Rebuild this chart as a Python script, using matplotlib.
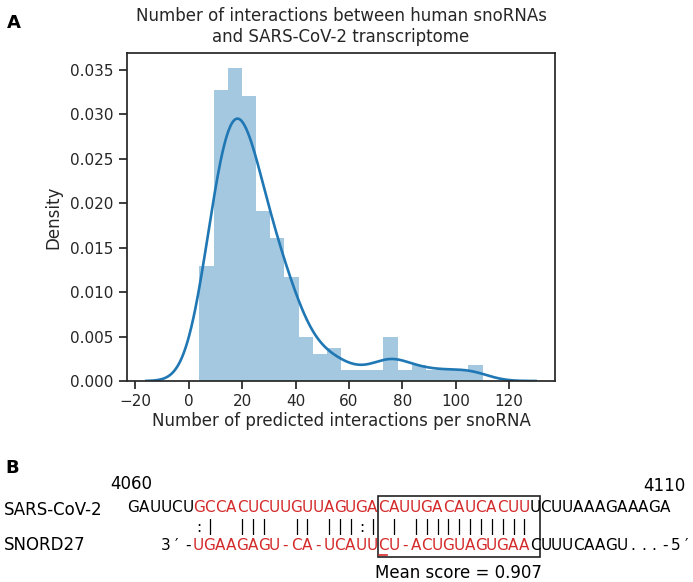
import numpy as np
import matplotlib
matplotlib.use("Agg")
import matplotlib.pyplot as plt
from matplotlib.patches import Rectangle

# ---------------- data ----------------
bin_min, bin_max, n_bins = 4.0, 110.0, 20
counts = [21, 53, 57, 52, 31, 26, 19, 8, 5, 6, 2, 2, 2, 8, 2, 3, 2, 2, 2, 3]
xticks = [-20, 0, 20, 40, 60, 80, 100, 120]
title = "Number of interactions between human snoRNAs\nand SARS-CoV-2 transcriptome"
xlabel = "Number of predicted interactions per snoRNA"
ylabel = "Density"

top_seq = "GAUUCUGCCACUCUUGUUAGUGACAUUGACAUCACUUUCUUAAAGAAAGA"
top_red = (6, 37)            # cells [start, end) drawn red
pair_str = "      :|  |||  || |||:| | |||||||||||"
bot_seq = "   3′-UGAAGAGU-CA-UCAUUCU-ACUGUAGUGAACUUUCAAGU...-5′"
bot_red = (6, 37)
underlined_cell = 23
box_cells = (23, 37)         # inclusive
pos_left, pos_right = "4060", "4110"
name_top, name_bot = "SARS-CoV-2", "SNORD27"
score_text = "Mean score = 0.907"

# ---------------- figure ----------------
W, H = 693, 582
fig = plt.figure(figsize=(W / 100, H / 100), dpi=100)
TXT = "#262626"
BLUE = "#1f77b4"
RED = "#d42a2a"

ax = fig.add_axes([127 / W, 1 - 381 / H, 428 / W, (381 - 52.7) / H])
edges = np.linspace(bin_min, bin_max, n_bins + 1)
centers = (edges[:-1] + edges[1:]) / 2
ax.hist(centers, bins=edges, weights=counts, density=True,
        color=BLUE, alpha=0.4, linewidth=0)

# Gaussian KDE (Scott's rule) of the binned observations
data = np.repeat(centers, counts)
bw = data.std(ddof=1) * len(data) ** (-1 / 5)
grid = np.linspace(bin_min - 3 * bw, bin_max + 3 * bw, 400)
dens = np.exp(-0.5 * ((grid[:, None] - data[None, :]) / bw) ** 2).sum(1)
dens /= len(data) * bw * np.sqrt(2 * np.pi)
ax.plot(grid, dens, color=BLUE, lw=1.9)

ax.set_xticks(xticks)
ax.set_ylim(bottom=0)
ax.tick_params(labelsize=11, length=6, width=1.25, colors=TXT)
for s in ax.spines.values():
    s.set_linewidth(1.25)
    s.set_color(TXT)
ax.set_xlabel(xlabel, fontsize=12, color=TXT, labelpad=2)
ax.set_ylabel(ylabel, fontsize=12, color=TXT, labelpad=6)
ax.set_title(title, fontsize=12, color=TXT, pad=8)

# ---------------- panel B (pixel coordinates) ----------------
ov = fig.add_axes([0, 0, 1, 1])
ov.set_xlim(0, W)
ov.set_ylim(H, 0)
ov.axis("off")

ov.text(14, 23, "A", fontsize=13, fontweight="bold", ha="center", va="center", color="black")
ov.text(12, 468, "B", fontsize=13, fontweight="bold", ha="center", va="center", color="black")

x0, pitch = 133.5, 10.85
y_top, y_pair, y_bot = 508, 527, 545.5
fs = 11

def cx(i):
    return x0 + i * pitch

for i, ch in enumerate(top_seq):
    c = RED if top_red[0] <= i < top_red[1] else "black"
    ov.text(cx(i), y_top, ch, fontsize=fs, ha="center", va="center", color=c)
for i, ch in enumerate(pair_str):
    if ch != " ":
        ov.text(cx(i), y_pair, ch, fontsize=fs, ha="center", va="center", color="black")
for i, ch in enumerate(bot_seq):
    if ch == " ":
        continue
    c = RED if bot_red[0] <= i < bot_red[1] else "black"
    ov.text(cx(i), y_bot, ch, fontsize=fs, ha="center", va="center", color=c)
ov.plot([cx(underlined_cell) - 4, cx(underlined_cell) + 4], [554.5, 554.5], color=RED, lw=1.2)

bx0 = cx(box_cells[0]) - pitch / 2
bx1 = cx(box_cells[1]) + pitch / 2
ov.add_patch(Rectangle((bx0, 496), bx1 - bx0, 556.7 - 496, fill=False,
                       edgecolor="#222222", lw=1.2))

ov.text(131, 484, pos_left, fontsize=12, ha="center", va="center", color="black")
ov.text(664, 486, pos_right, fontsize=12, ha="center", va="center", color="black")
ov.text(4, 510, name_top, fontsize=12, ha="left", va="center", color="black")
ov.text(4, 545, name_bot, fontsize=12, ha="left", va="center", color="black")
ov.text(458, 573, score_text, fontsize=12, ha="center", va="center", color="black")

fig.savefig("out.png", dpi=100)
